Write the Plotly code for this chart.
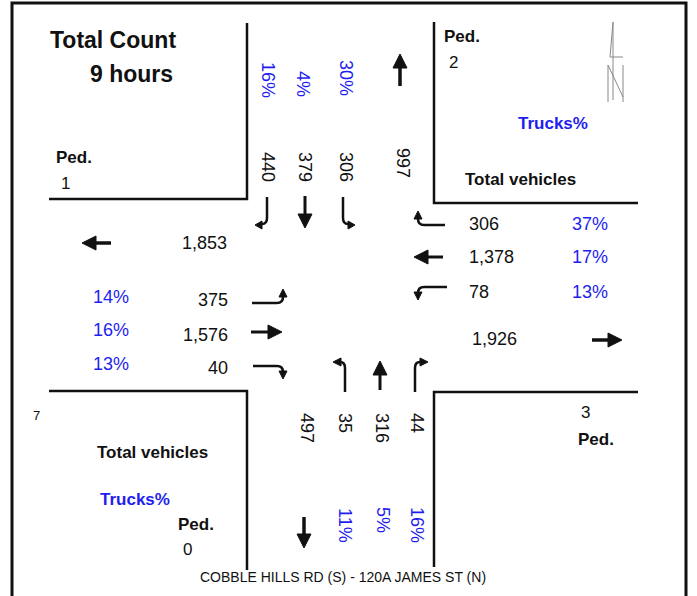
import plotly.graph_objects as go

# ---------------- data ----------------
title_lines = ["Total Count", "9 hours"]
footer = "COBBLE HILLS RD (S) - 120A JAMES ST (N)"

# Southbound approach (north leg), left-to-right on the picture
sb_volumes = [440, 379, 306]
sb_trucks = [16, 4, 30]
nb_exit_total = 997          # north leg, leaving

# Westbound approach (east leg), top-to-bottom
wb_volumes = [306, 1378, 78]
wb_trucks = [37, 17, 13]
eb_exit_total = 1926         # east leg, leaving

# Eastbound approach (west leg), top-to-bottom
eb_volumes = [375, 1576, 40]
eb_trucks = [14, 16, 13]
wb_exit_total = 1853         # west leg, leaving

# Northbound approach (south leg), left-to-right
nb_volumes = [35, 316, 44]
nb_trucks = [11, 5, 16]
sb_exit_total = 497          # south leg, leaving

ped_counts = {"NW": 1, "NE": 2, "SE": 3, "SW": 0}
extra_label = "7"

# ---------------- styling ----------------
W, H = 697, 596
FONT = "Arial, 'Liberation Sans', sans-serif"
BLUE = "#1e1ef0"
BLACK = "#111111"

fig = go.Figure()
fig.add_trace(go.Scatter(x=[0, W], y=[0, H], mode="markers",
                         marker=dict(opacity=0), hoverinfo="skip", showlegend=False))

ann = []


def txt(x, y, s, size=18, color=BLACK, bold=False, angle=0, xanchor="center"):
    if bold:
        s = "<b>" + s + "</b>"
    ann.append(dict(x=x, y=y, xref="x", yref="y", text=s, showarrow=False,
                    font=dict(family=FONT, size=size, color=color),
                    textangle=angle, xanchor=xanchor, yanchor="middle"))


def fmt(v):
    return f"{v:,}"


shapes = []


def line(x0, y0, x1, y1, w=2.5, color=BLACK):
    shapes.append(dict(type="line", x0=x0, y0=y0, x1=x1, y1=y1, xref="x", yref="y",
                       line=dict(color=color, width=w)))


def path(d, w=3, fill=None, color=BLACK):
    s = dict(type="path", path=d, xref="x", yref="y", line=dict(color=color, width=w))
    if fill:
        s["fillcolor"] = fill
        s["line"] = dict(color=color, width=1)
    shapes.append(s)


def head(tx, ty, direction, L=13, hw=6):
    if direction == "up":
        d = f"M{tx},{ty} L{tx-hw},{ty+L} L{tx+hw},{ty+L} Z"
    elif direction == "down":
        d = f"M{tx},{ty} L{tx-hw},{ty-L} L{tx+hw},{ty-L} Z"
    elif direction == "left":
        d = f"M{tx},{ty} L{tx+L},{ty-hw} L{tx+L},{ty+hw} Z"
    else:
        d = f"M{tx},{ty} L{tx-L},{ty-hw} L{tx-L},{ty+hw} Z"
    path(d, fill=BLACK)


# ---------------- frame and curbs ----------------
path(f"M12,{H+5} L12,3 L686,3 L686,{H+5}", w=3)
path("M49,199 L247,199 L247,23", w=2.5)       # NW corner
path("M434,22 L434,203 L638,203", w=2.5)      # NE corner
path("M49,391 L247,391 L247,570", w=2.5)      # SW corner
path("M638,392 L434,392 L434,567", w=2.5)     # SE corner

# ---------------- arrows ----------------
line(400, 86, 400, 66, w=3.5); head(400, 54, "up", L=14, hw=7)
line(111, 243, 94, 243, w=3.5); head(82, 243, "left", L=14, hw=7)
line(592, 340, 610, 340, w=3.5); head(622, 340, "right", L=14, hw=7)
line(304, 517, 304, 536, w=3.5); head(304, 548, "down", L=14, hw=7)

# southbound approach
path("M267,197 L267,218 Q267,224 262,224", w=2.5); head(255, 225, "left", L=7, hw=4)
line(305, 196, 305, 214, w=3); head(305, 228, "down", L=14, hw=7)
path("M343,197 L343,218 Q343,224 348,224", w=2.5); head(355, 225, "right", L=7, hw=4)

# westbound approach
path("M445,225 L424,225 Q418,225 418,219", w=2.5); head(418, 211, "up", L=8, hw=4)
line(443, 257, 428, 257, w=3); head(414, 257, "left", L=14, hw=7)
path("M447,287 L424,287 Q418,287 418,293", w=2.5); head(418, 300, "down", L=8, hw=4)

# eastbound approach
path("M252,303 L277,303 Q283,303 283,297", w=2.5); head(283, 289, "up", L=8, hw=4)
line(251, 332, 268, 332, w=3); head(282, 332, "right", L=14, hw=7)
path("M253,366 L277,366 Q283,366 283,372", w=2.5); head(283, 379, "down", L=8, hw=4)

# northbound approach
path("M345,392 L345,368 Q345,362 340,362", w=2.5); head(333, 362, "left", L=8, hw=4)
line(380, 390, 380, 374, w=3); head(380, 361, "up", L=14, hw=7)
path("M415,392 L415,368 Q415,362 420,362", w=2.5); head(428, 362, "right", L=8, hw=4)

# north symbol
GR = "#888888"
for (a, b, c, d) in [(613, 22, 610, 57), (610, 57, 623, 57), (613, 22, 613, 100),
                     (608, 65, 608, 102), (608, 65, 623, 97), (623, 65, 623, 102)]:
    line(a, b, c, d, w=1, color=GR)

# ---------------- texts ----------------
txt(113, 40, title_lines[0], size=23, bold=True)
txt(131, 74, title_lines[1], size=23, bold=True)

for x, v in zip([268, 305, 346], sb_volumes):
    txt(x, 167, fmt(v), angle=90)
for x, y, p in zip([268, 303, 346], [80, 84, 78], sb_trucks):
    txt(x, y, f"{p}%", color=BLUE, angle=90)
txt(403, 163, fmt(nb_exit_total), angle=90)

for y, v, p in zip([224, 257, 292], wb_volumes, wb_trucks):
    txt(467, y, fmt(v), xanchor="left")
    txt(570, y, f"{p}%", color=BLUE, xanchor="left")
txt(470, 339, fmt(eb_exit_total), xanchor="left")

txt(229, 243, fmt(wb_exit_total), xanchor="right")
for y, v in zip([300, 335, 368], eb_volumes):
    txt(230, y, fmt(v), xanchor="right")
for y, p in zip([297, 330, 364], eb_trucks):
    txt(91, y, f"{p}%", color=BLUE, xanchor="left")

txt(307, 428, fmt(sb_exit_total), angle=90)
for x, y, v in zip([345, 382, 417], [423, 428, 423], nb_volumes):
    txt(x, y, fmt(v), angle=90)
for x, y, p in zip([345, 383, 417], [525, 520, 525], nb_trucks):
    txt(x, y, f"{p}%", color=BLUE, angle=90)

txt(74, 157, "Ped.", size=17, bold=True)
txt(65, 183, str(ped_counts["NW"]), size=17)
txt(462, 36, "Ped.", size=17, bold=True)
txt(453, 62, str(ped_counts["NE"]), size=17)
txt(553, 123, "Trucks%", size=17, bold=True, color=BLUE)
txt(520, 179, "Total vehicles", size=17, bold=True)
txt(36, 415, extra_label, size=13)
txt(152, 452, "Total vehicles", size=17, bold=True)
txt(135, 499, "Trucks%", size=17, bold=True, color=BLUE)
txt(196, 524, "Ped.", size=17, bold=True)
txt(187, 549, str(ped_counts["SW"]), size=17)
txt(585, 412, str(ped_counts["SE"]), size=17)
txt(596, 439, "Ped.", size=17, bold=True)
txt(343, 577, footer, size=14)

fig.update_layout(
    width=W, height=H, autosize=False,
    margin=dict(l=0, r=0, t=0, b=0),
    paper_bgcolor="white", plot_bgcolor="white",
    xaxis=dict(range=[0, W], visible=False, fixedrange=True),
    yaxis=dict(range=[H, 0], visible=False, fixedrange=True),
    shapes=shapes, annotations=ann, showlegend=False,
)

fig.write_html("out.html", config={"displayModeBar": False},
               post_script="document.body.style.margin='0';document.body.style.overflow='hidden';")
